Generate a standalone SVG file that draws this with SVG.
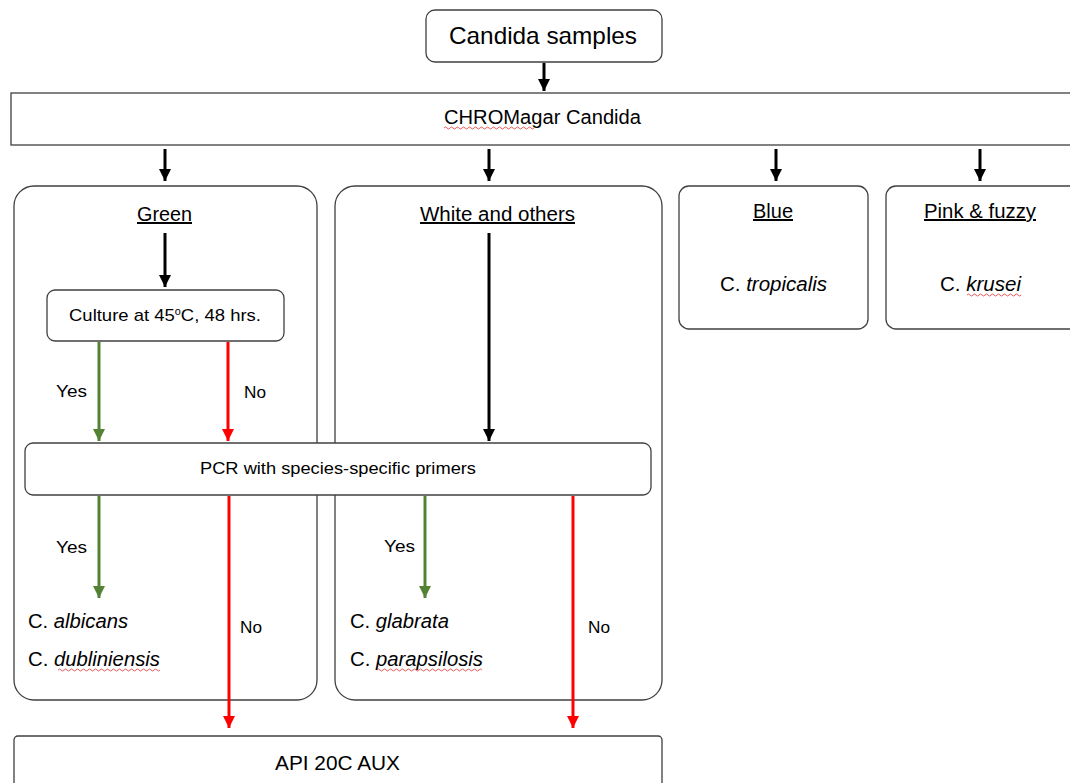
<svg xmlns="http://www.w3.org/2000/svg" width="1070" height="783" viewBox="0 0 1070 783">
<defs>
<style>
.box{fill:#fff;stroke:#404040;stroke-width:1.3}
.t{font-family:"Liberation Sans",Arial,sans-serif;fill:#000}
.u{text-decoration:underline}
.i{font-style:italic}
.k{stroke:#000;stroke-width:3;fill:none}
.g{stroke:#548235;stroke-width:3;fill:none}
.r{stroke:#ff0000;stroke-width:3;fill:none}
.sq{fill:none;stroke:#e03030;stroke-width:0.8}
</style>
<marker id="ak" viewBox="0 0 10 10" refX="5" refY="10" markerWidth="12" markerHeight="12" markerUnits="userSpaceOnUse"><path d="M0,0 L10,0 L5,10 Z" fill="#000"/></marker>
<marker id="ag" viewBox="0 0 10 10" refX="5" refY="10" markerWidth="12" markerHeight="12" markerUnits="userSpaceOnUse"><path d="M0,0 L10,0 L5,10 Z" fill="#548235"/></marker>
<marker id="ar" viewBox="0 0 10 10" refX="5" refY="10" markerWidth="12" markerHeight="12" markerUnits="userSpaceOnUse"><path d="M0,0 L10,0 L5,10 Z" fill="#ff0000"/></marker>
</defs>
<rect width="1070" height="783" fill="#fff"/>

<g id="n-samples">
<rect class="box" x="426" y="10" width="236" height="52" rx="9"/>
<text class="t" x="449" y="44" font-size="24" textLength="188" lengthAdjust="spacingAndGlyphs">Candida samples</text>
</g>
<g id="n-chromagar">
<rect class="box" x="11" y="93" width="1075" height="52"/>
<text class="t" x="444" y="124" font-size="20" textLength="197" lengthAdjust="spacingAndGlyphs">CHROMagar Candida</text>
<path class="sq" d="M444,128 q1.5,-2 3,0 t3,0 t3,0 t3,0 t3,0 t3,0 t3,0 t3,0 t3,0 t3,0 t3,0 t3,0 t3,0 t3,0 t3,0 t3,0 t3,0 t3,0 t3,0 t3,0 t3,0 t3,0 t3,0 t3,0 t3,0 t3,0 t3,0 t3,0 t3,0 t3,0"/>
</g>
<g id="n-green">
<rect class="box" x="14" y="186" width="303" height="514" rx="20"/>
<text class="t u" x="137" y="221" font-size="20" textLength="55" lengthAdjust="spacingAndGlyphs">Green</text>
</g>
<g id="n-white">
<rect class="box" x="335" y="186" width="327" height="514" rx="20"/>
<text class="t u" x="420" y="221" font-size="20" textLength="155" lengthAdjust="spacingAndGlyphs">White and others</text>
</g>
<g id="n-blue">
<rect class="box" x="679" y="186" width="189" height="143" rx="10"/>
<text class="t u" x="753" y="218" font-size="20" textLength="40" lengthAdjust="spacingAndGlyphs">Blue</text>
<text class="t" x="720" y="291" font-size="20" textLength="107" lengthAdjust="spacingAndGlyphs">C. <tspan class="i">tropicalis</tspan></text>
</g>
<g id="n-pink">
<rect class="box" x="886" y="186" width="200" height="143" rx="10"/>
<text class="t u" x="924" y="218" font-size="20" textLength="112" lengthAdjust="spacingAndGlyphs">Pink &amp; fuzzy</text>
<text class="t" x="940" y="291" font-size="20" textLength="81" lengthAdjust="spacingAndGlyphs">C. <tspan class="i">krusei</tspan></text>
<path class="sq" d="M967,295 q1.5,-2 3,0 t3,0 t3,0 t3,0 t3,0 t3,0 t3,0 t3,0 t3,0 t3,0 t3,0 t3,0 t3,0 t3,0 t3,0 t3,0 t3,0 t3,0"/>
</g>
<g id="n-culture">
<rect class="box" x="47" y="290" width="237" height="51" rx="8"/>
<text class="t" x="69" y="321" font-size="17" textLength="192" lengthAdjust="spacingAndGlyphs">Culture at 45<tspan dy="-6" font-size="10">o</tspan><tspan dy="6">C, 48 hrs.</tspan></text>
</g>
<g id="n-pcr">
<rect class="box" x="25" y="443" width="626" height="52" rx="8"/>
<text class="t" x="200" y="474" font-size="17" textLength="276" lengthAdjust="spacingAndGlyphs">PCR with species-specific primers</text>
</g>
<g id="n-albicans">
<text class="t" x="28" y="628" font-size="20" textLength="100" lengthAdjust="spacingAndGlyphs">C. <tspan class="i">albicans</tspan></text>
<text class="t" x="28" y="666" font-size="20" textLength="132" lengthAdjust="spacingAndGlyphs">C. <tspan class="i">dubliniensis</tspan></text>
<path class="sq" d="M58,670 q1.5,-2 3,0 t3,0 t3,0 t3,0 t3,0 t3,0 t3,0 t3,0 t3,0 t3,0 t3,0 t3,0 t3,0 t3,0 t3,0 t3,0 t3,0 t3,0 t3,0 t3,0 t3,0 t3,0 t3,0 t3,0 t3,0 t3,0 t3,0 t3,0 t3,0 t3,0 t3,0 t3,0 t3,0 t3,0"/>
</g>
<g id="n-glabrata">
<text class="t" x="350" y="628" font-size="20" textLength="99" lengthAdjust="spacingAndGlyphs">C. <tspan class="i">glabrata</tspan></text>
<text class="t" x="350" y="666" font-size="20" textLength="133" lengthAdjust="spacingAndGlyphs">C. <tspan class="i">parapsilosis</tspan></text>
<path class="sq" d="M377,670 q1.5,-2 3,0 t3,0 t3,0 t3,0 t3,0 t3,0 t3,0 t3,0 t3,0 t3,0 t3,0 t3,0 t3,0 t3,0 t3,0 t3,0 t3,0 t3,0 t3,0 t3,0 t3,0 t3,0 t3,0 t3,0 t3,0 t3,0 t3,0 t3,0 t3,0 t3,0 t3,0 t3,0 t3,0 t3,0 t3,0"/>
</g>
<g id="n-api">
<rect class="box" x="14" y="736" width="648" height="60" rx="4"/>
<text class="t" x="275" y="770" font-size="20" textLength="125" lengthAdjust="spacingAndGlyphs">API 20C AUX</text>
</g>

<g id="connectors">
<line class="k" x1="544" y1="63" x2="544" y2="91" marker-end="url(#ak)"/>
<line class="k" x1="165" y1="149" x2="165" y2="181" marker-end="url(#ak)"/>
<line class="k" x1="489" y1="149" x2="489" y2="181" marker-end="url(#ak)"/>
<line class="k" x1="776" y1="149" x2="776" y2="181" marker-end="url(#ak)"/>
<line class="k" x1="980" y1="149" x2="980" y2="181" marker-end="url(#ak)"/>
<line class="k" x1="165" y1="233" x2="165" y2="287" marker-end="url(#ak)"/>
<line class="k" x1="489" y1="233" x2="489" y2="441" marker-end="url(#ak)"/>
<line class="g" x1="99" y1="342" x2="99" y2="441" marker-end="url(#ag)"/>
<line class="r" x1="228" y1="342" x2="228" y2="441" marker-end="url(#ar)"/>
<line class="g" x1="99" y1="496" x2="99" y2="598" marker-end="url(#ag)"/>
<line class="r" x1="229" y1="496" x2="229" y2="728" marker-end="url(#ar)"/>
<line class="g" x1="425" y1="496" x2="425" y2="598" marker-end="url(#ag)"/>
<line class="r" x1="573" y1="496" x2="573" y2="728" marker-end="url(#ar)"/>
<text class="t" x="56" y="397" font-size="17" textLength="31" lengthAdjust="spacingAndGlyphs">Yes</text>
<text class="t" x="244" y="398" font-size="17" textLength="22" lengthAdjust="spacingAndGlyphs">No</text>
<text class="t" x="56" y="553" font-size="17" textLength="31" lengthAdjust="spacingAndGlyphs">Yes</text>
<text class="t" x="240" y="633" font-size="17" textLength="22" lengthAdjust="spacingAndGlyphs">No</text>
<text class="t" x="384" y="552" font-size="17" textLength="31" lengthAdjust="spacingAndGlyphs">Yes</text>
<text class="t" x="588" y="633" font-size="17" textLength="22" lengthAdjust="spacingAndGlyphs">No</text>
</g>
</svg>
